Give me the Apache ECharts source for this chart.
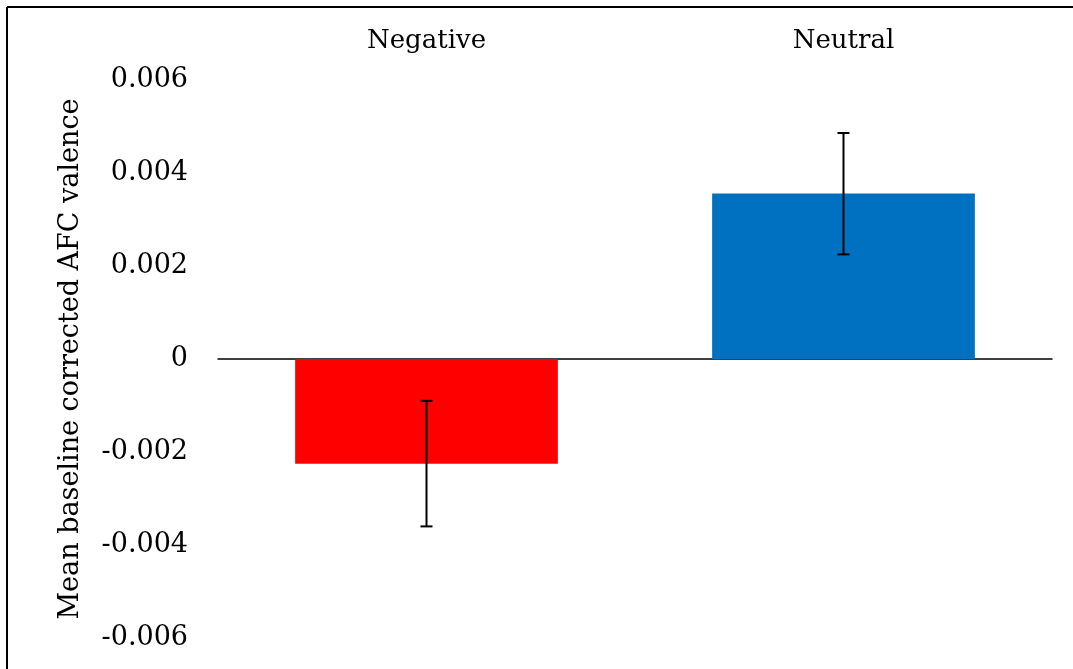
<!DOCTYPE html>
<html>
<head>
<meta charset="utf-8">
<script src="https://cdn.jsdelivr.net/npm/echarts@6/dist/echarts.min.js"></script>
<style>
html,body{margin:0;padding:0;background:#fff;}
#chart{width:1073px;height:669px;}
</style>
</head>
<body>
<div id="chart"></div>
<script>
const categories = ['Negative', 'Neutral'];
const means = [-0.00225, 0.00356];
const errLow = [-0.0036, 0.00225];
const errHigh = [-0.0009, 0.00486];
const barColors = ['#FF0000', '#0070C0'];
const yTicks = [-0.006, -0.004, -0.002, 0, 0.002, 0.004, 0.006];
const yName = 'Mean baseline corrected AFC valence';

const FONT = 'DejaVu Serif';
const chart = echarts.init(document.getElementById('chart'));

chart.setOption({
  animation: false,
  backgroundColor: '#fff',
  textStyle: { fontFamily: FONT },
  grid: { left: 218, right: 21, top: 80, bottom: 31, containLabel: false },
  xAxis: [
    {
      type: 'category',
      data: categories,
      position: 'top',
      axisLine: { show: false, onZero: false },
      axisTick: { show: false },
      axisLabel: { color: '#000', fontSize: 26, fontFamily: FONT, margin: 26 }
    },
    {
      type: 'category',
      data: categories,
      position: 'bottom',
      axisLine: { show: true, onZero: true, lineStyle: { color: '#000', width: 1.5 } },
      axisTick: { show: false },
      axisLabel: { show: false }
    }
  ],
  yAxis: {
    type: 'value',
    min: yTicks[0],
    max: yTicks[yTicks.length - 1],
    interval: 0.002,
    name: yName,
    nameLocation: 'middle',
    nameGap: 134,
    nameTextStyle: { color: '#000', fontSize: 27, fontFamily: FONT },
    axisLine: { show: false },
    axisTick: { show: false },
    splitLine: { show: false },
    axisLabel: {
      color: '#000', fontSize: 27, fontFamily: FONT, margin: 30,
      formatter: v => {
        const r = Math.round(v * 1000) / 1000;
        return r === 0 ? '0' : r.toFixed(3);
      }
    }
  },
  series: [
    {
      type: 'bar',
      xAxisIndex: 0,
      barWidth: '63%',
      data: means.map((v, i) => ({ value: v, itemStyle: { color: barColors[i] } })),
      z: 2
    },
    {
      type: 'custom',
      xAxisIndex: 0,
      z: 5,
      data: categories.map((c, i) => [i, errLow[i], errHigh[i]]),
      renderItem: (params, api) => {
        const lo = api.coord([api.value(0), api.value(1)]);
        const hi = api.coord([api.value(0), api.value(2)]);
        const hw = 6;
        const style = { stroke: '#000', lineWidth: 2 };
        return {
          type: 'group',
          children: [
            { type: 'line', shape: { x1: lo[0], y1: lo[1], x2: hi[0], y2: hi[1] }, style },
            { type: 'line', shape: { x1: lo[0] - hw, y1: lo[1], x2: lo[0] + hw, y2: lo[1] }, style },
            { type: 'line', shape: { x1: hi[0] - hw, y1: hi[1], x2: hi[0] + hw, y2: hi[1] }, style }
          ]
        };
      }
    }
  ],
  graphic: [
    { type: 'line', shape: { x1: 7, y1: 7, x2: 1073, y2: 7 }, style: { stroke: '#000', lineWidth: 2 } },
    { type: 'line', shape: { x1: 7, y1: 7, x2: 7, y2: 669 }, style: { stroke: '#000', lineWidth: 2 } }
  ]
});
</script>
</body>
</html>
